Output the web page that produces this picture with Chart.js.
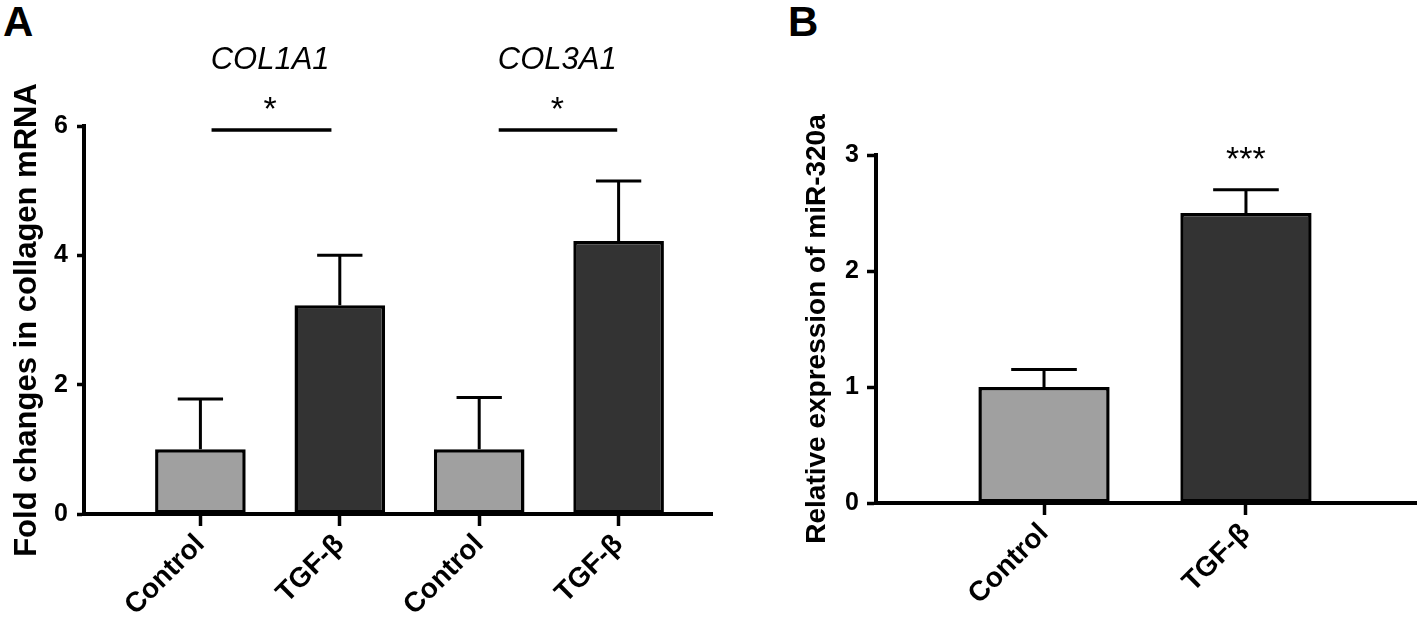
<!DOCTYPE html>
<html>
<head>
<meta charset="utf-8">
<script src="https://cdn.jsdelivr.net/npm/chart.js@4.4.0/dist/chart.umd.min.js"></script>
<style>
  html, body { margin: 0; padding: 0; background: #fff; }
  body { width: 1418px; height: 625px; position: relative; overflow: hidden; }
  canvas { position: absolute; top: 0; }
  #chartA { left: 0; }
  #chartB { left: 780px; }
  .panel { position: absolute; font: bold 42px 'Liberation Sans', Arial, sans-serif; line-height: 42px; }
</style>
</head>
<body>
<div class="panel" style="left:3px; top:1px;">A</div>
<div class="panel" style="left:788px; top:1px;">B</div>
<canvas id="chartA" width="720" height="625"></canvas>
<canvas id="chartB" width="638" height="625"></canvas>
<script>
// panel A - collagen mRNA
const labelsA = ['Control', 'TGF-β', 'Control', 'TGF-β'];
const meansA = [1.0, 3.23, 1.0, 4.22];
const sdA = [0.78, 0.77, 0.8, 0.93];
const genesA = ['COL1A1', 'COL3A1'];
const genePosA = [0.5, 2.56];
const sigLinesA = [[0.08, 0.94], [2.14, 2.99]];
const ticksA = [0, 2, 4, 6];

// panel B - miR-320a
const labelsB = ['Control', 'TGF-β'];
const meansB = [1.0, 2.5];
const sdB = [0.15, 0.2];
const ticksB = [0, 1, 2, 3];

const colors = ['#a0a0a0', '#333333'];
const FONT = "'Liberation Sans', Arial, sans-serif";

const errorBars = {
  id: 'errorBars',
  afterDatasetsDraw(chart, args, opts) {
    const ctx = chart.ctx;
    const y = chart.scales.y;
    const meta = chart.getDatasetMeta(0);
    ctx.save();
    ctx.strokeStyle = '#000';
    ctx.lineWidth = 3;
    meta.data.forEach((bar, i) => {
      const v = chart.data.datasets[0].data[i].y + opts.sd[i];
      const top = y.getPixelForValue(v);
      const half = bar.width / 4;
      ctx.beginPath();
      ctx.moveTo(bar.x, bar.y);
      ctx.lineTo(bar.x, top);
      ctx.moveTo(bar.x - half, top);
      ctx.lineTo(bar.x + half, top);
      ctx.stroke();
    });
    ctx.restore();
  }
};

const notes = {
  id: 'notes',
  afterDraw(chart, args, opts) {
    const ctx = chart.ctx;
    const { x, y } = chart.scales;
    ctx.save();
    ctx.fillStyle = '#000';
    ctx.strokeStyle = '#000';
    ctx.textAlign = 'center';
    ctx.textBaseline = 'middle';
    (opts.texts || []).forEach(t => {
      ctx.font = t.font;
      ctx.fillText(t.text, x.getPixelForValue(t.x), y.getPixelForValue(t.y));
    });
    ctx.lineWidth = 3.5;
    (opts.lines || []).forEach(l => {
      const py = y.getPixelForValue(l.y);
      ctx.beginPath();
      ctx.moveTo(x.getPixelForValue(l.from), py);
      ctx.lineTo(x.getPixelForValue(l.to), py);
      ctx.stroke();
    });
    ctx.restore();
  }
};

function makeChart(id, cfg) {
  return new Chart(document.getElementById(id), {
    type: 'bar',
    data: {
      datasets: [{
        data: cfg.means.map((m, i) => ({ x: i, y: m })),
        backgroundColor: cfg.labels.map((_, i) => colors[i % 2]),
        borderColor: '#000',
        borderWidth: 3.5,
        borderSkipped: false,
        categoryPercentage: 1,
        barPercentage: 0.65
      }]
    },
    options: {
      responsive: false,
      animation: false,
      layout: { padding: { top: cfg.top, right: cfg.right, left: 0, bottom: 0 } },
      plugins: {
        legend: { display: false },
        tooltip: { enabled: false },
        errorBars: { sd: cfg.sd },
        notes: cfg.notes
      },
      scales: {
        x: {
          type: 'linear',
          offset: false,
          min: cfg.xmin,
          max: cfg.xmax,
          afterBuildTicks: s => { s.ticks = cfg.labels.map((_, i) => ({ value: i })); },
          afterFit: s => { s.height = cfg.xHeight; },
          grid: { offset: false, drawOnChartArea: false, drawTicks: true, tickLength: 12, tickWidth: 3.5, color: '#000' },
          border: { display: true, width: 4, color: '#000' },
          ticks: {
            autoSkip: false,
            minRotation: 45,
            maxRotation: 45,
            padding: 2,
            color: '#000',
            font: { family: FONT, size: 28, weight: 'bold' },
            callback: v => cfg.labels[v]
          }
        },
        y: {
          min: 0,
          max: cfg.ymax,
          afterBuildTicks: s => { s.ticks = cfg.yticks.map(v => ({ value: v })); },
          afterFit: s => { s.width = cfg.yWidth; },
          grid: { drawOnChartArea: false, drawTicks: true, tickLength: cfg.tickLen, tickWidth: 3.5, color: '#000' },
          border: { display: true, width: 4, color: '#000' },
          ticks: {
            padding: cfg.tickPad,
            color: '#000',
            font: { family: FONT, size: 25, weight: 'bold' }
          },
          title: {
            display: true,
            text: cfg.title,
            color: '#000',
            padding: { top: cfg.titlePad, bottom: 0 },
            font: { family: FONT, size: cfg.titleSize, weight: 'bold' }
          }
        }
      }
    },
    plugins: [errorBars, notes]
  });
}

makeChart('chartA', {
  labels: labelsA, means: meansA, sd: sdA, yticks: ticksA, ymax: 6,
  xmin: -0.835, xmax: 3.67, top: 126, right: 8, xHeight: 111, yWidth: 84,
  tickLen: 7, tickPad: 9, title: 'Fold changes in collagen mRNA', titleSize: 31, titlePad: 9,
  notes: {
    texts: genesA.map((g, i) => ({ text: g, x: genePosA[i], y: 7.02, font: 'italic 31px ' + FONT }))
      .concat(genePosA.map(p => ({ text: '*', x: p, y: 6.24, font: '34px ' + FONT }))),
    lines: sigLinesA.map(l => ({ from: l[0], to: l[1], y: 5.94 }))
  }
});

makeChart('chartB', {
  labels: labelsB, means: meansB, sd: sdB, yticks: ticksB, ymax: 3,
  xmin: -0.832, xmax: 1.842, top: 155, right: 2, xHeight: 122, yWidth: 96,
  tickLen: 9, tickPad: 8, title: 'Relative expression of miR-320a', titleSize: 28, titlePad: 20,
  notes: {
    texts: [{ text: '***', x: 1, y: 2.95, font: '34px ' + FONT }],
    lines: []
  }
});
</script>
</body>
</html>
